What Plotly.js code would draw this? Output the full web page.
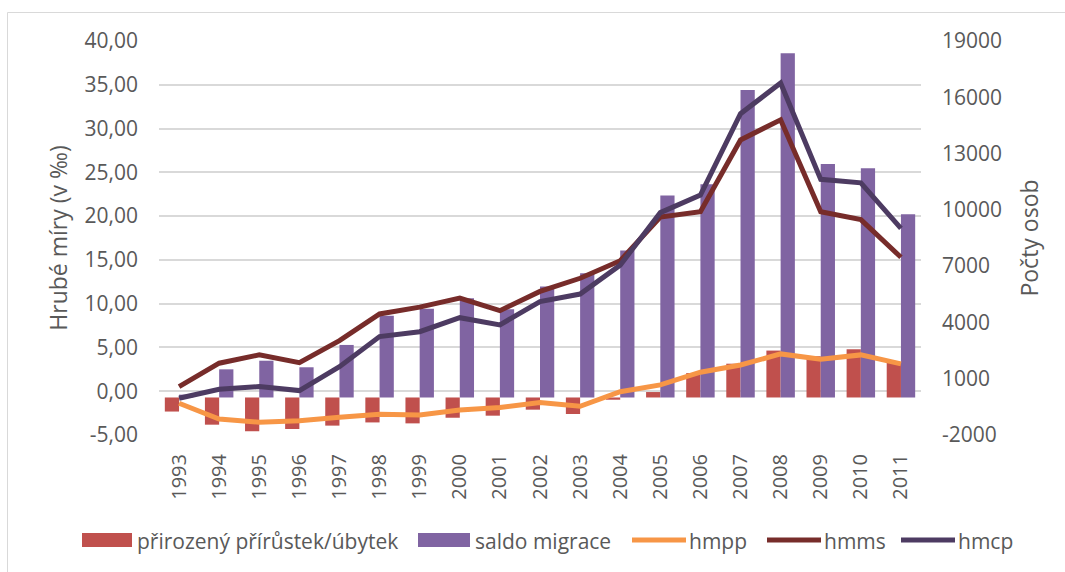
<!DOCTYPE html>
<html>
<head>
<meta charset="utf-8">
<script src="https://cdn.plot.ly/plotly-3.0.1.min.js"></script>
<style>
  html, body { margin: 0; padding: 0; background: #ffffff; }
  #chart { width: 1065px; height: 572px; }
</style>
</head>
<body>
<div id="chart"></div>
<script>
// ---- data ----
const years = ['1993','1994','1995','1996','1997','1998','1999','2000','2001','2002',
               '2003','2004','2005','2006','2007','2008','2009','2010','2011'];
const prirozenyPrirustek = [-750,-1450,-1800,-1680,-1500,-1330,-1380,-1080,-970,-650,
                            -880,-120,290,1300,1800,2500,2200,2570,1840];
const saldoMigrace = [150,1500,1960,1610,2800,4360,4730,5290,4700,5910,
                      6620,7830,10760,11360,16390,18350,12450,12220,9770];
const hmpp = [-1.37,-3.17,-3.55,-3.36,-2.97,-2.63,-2.71,-2.14,-1.87,-1.30,
              -1.72,-0.05,0.72,2.17,3.00,4.26,3.65,4.15,3.12];
const hmms = [0.53,3.20,4.15,3.27,5.78,8.83,9.60,10.63,9.20,11.40,
              12.90,14.90,19.90,20.50,28.70,31.00,20.50,19.60,15.30];
const hmcp = [-0.80,0.23,0.53,0.07,2.80,6.24,6.80,8.40,7.58,10.24,
              11.10,14.40,20.40,22.40,31.70,35.20,24.20,23.80,18.60];
const legendLabels = ['přirozený přírůstek/úbytek','saldo migrace','hmpp','hmms','hmcp'];
// tick labels
const rateTickVals = [-5,0,5,10,15,20,25,30,35,40];
const rateTickText = ['-5,00','0,00','5,00','10,00','15,00','20,00','25,00','30,00','35,00','40,00'];
const countTickVals = [-2000,1000,4000,7000,10000,13000,16000,19000];
const countTickText = ['-2000','1000','4000','7000','10000','13000','16000','19000'];

// ---- style ----
const C_RED = '#C0504D', C_PURPLE = '#8064A2', C_ORANGE = '#F79646',
      C_HMMS = '#772C2A', C_HMCP = '#4D3B62', TXT = '#595959', GRID = '#D9D9D9';
const FONT = 'Open Sans, Liberation Sans, sans-serif';

const traces = [
  {type:'bar', name:legendLabels[0], x:years, y:prirozenyPrirustek, yaxis:'y',
   marker:{color:C_RED, line:{width:0}}},
  {type:'bar', name:legendLabels[1], x:years, y:saldoMigrace, yaxis:'y',
   marker:{color:C_PURPLE, line:{width:0}}},
  {type:'scatter', mode:'lines', name:legendLabels[2], x:years, y:hmpp, yaxis:'y2',
   line:{color:C_ORANGE, width:5}},
  {type:'scatter', mode:'lines', name:legendLabels[3], x:years, y:hmms, yaxis:'y2',
   line:{color:C_HMMS, width:5}},
  {type:'scatter', mode:'lines', name:legendLabels[4], x:years, y:hmcp, yaxis:'y2',
   line:{color:C_HMCP, width:5}}
];

// plot area in pixels: left 159, right 921, top 41, bottom 435
const L = 159, R = 921, T = 41, B = 435;
const px = v => (v - L) / (R - L);
const py = v => (B - v) / (B - T);

// custom legend (Excel style)
const legY = 540;
const shapes = [
  {type:'rect', xref:'paper', yref:'paper', x0:px(7.5), x1:px(1080), y0:py(600), y1:py(12.5),
   line:{color:GRID, width:1}, fillcolor:'rgba(0,0,0,0)', layer:'below'},
  {type:'rect', xref:'paper', yref:'paper', x0:px(82), x1:px(132), y0:py(547), y1:py(533),
   line:{width:0}, fillcolor:C_RED},
  {type:'rect', xref:'paper', yref:'paper', x0:px(418), x1:px(470), y0:py(547), y1:py(533),
   line:{width:0}, fillcolor:C_PURPLE},
  {type:'line', xref:'paper', yref:'paper', x0:px(632), x1:px(686), y0:py(legY), y1:py(legY),
   line:{color:C_ORANGE, width:5}},
  {type:'line', xref:'paper', yref:'paper', x0:px(767), x1:px(821), y0:py(legY), y1:py(legY),
   line:{color:C_HMMS, width:5}},
  {type:'line', xref:'paper', yref:'paper', x0:px(901), x1:px(955), y0:py(legY), y1:py(legY),
   line:{color:C_HMCP, width:5}}
];
const legX = [135, 473, 687, 822, 956];
const annotations = legendLabels.map((t, i) => ({
  text:t, xref:'paper', yref:'paper', x:px(legX[i]), y:py(legY+1),
  xanchor:'left', yanchor:'middle', showarrow:false,
  font:{family:FONT, size:21, color:TXT}
}));

const layout = {
  width:1065, height:572,
  margin:{l:L, r:1065-R, t:T, b:572-B, pad:0},
  paper_bgcolor:'#ffffff', plot_bgcolor:'#ffffff',
  separators:', ',
  showlegend:false,
  barmode:'group', bargap:0.29, bargroupgap:0,
  font:{family:FONT, color:TXT},
  xaxis:{type:'category', tickangle:-90, showgrid:false, zeroline:false, showline:false,
         ticks:'', tickfont:{size:20, color:TXT}, ticklabelstandoff:14},
  yaxis:{side:'right', range:[-2000,19000], tickmode:'array',
         tickvals:countTickVals, ticktext:countTickText,
         showgrid:false, zeroline:false, showline:false, ticks:'',
         tickfont:{size:21, color:TXT}, ticklabelstandoff:20,
         title:{text:'Počty osob', font:{size:23, color:TXT}, standoff:20}},
  yaxis2:{overlaying:'y', side:'left', range:[-5,40], tickmode:'array',
          tickvals:rateTickVals, ticktext:rateTickText,
          showgrid:true, gridcolor:GRID, gridwidth:2, zeroline:false, showline:false, ticks:'',
          tickfont:{size:21, color:TXT}, ticklabelstandoff:20,
          title:{text:'Hrubé míry (v ‰)', font:{size:23, color:TXT}, standoff:10}},
  shapes:shapes,
  annotations:annotations
};

Plotly.newPlot('chart', traces, layout, {staticPlot:true, displayModeBar:false});
</script>
</body>
</html>
